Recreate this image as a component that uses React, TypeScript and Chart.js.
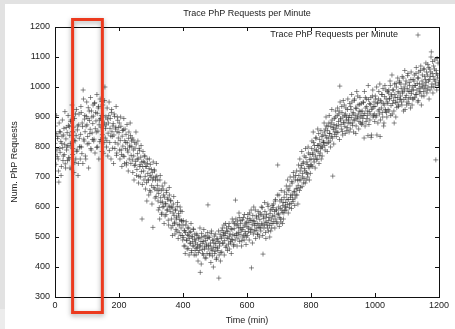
import React, { useEffect, useRef } from "react";
import { Chart, registerables } from "chart.js";

Chart.register(...registerables);

const W = 455;
const H = 329;

const TITLE = "Trace PhP Requests per Minute";
const SERIES_LABEL = "Trace PhP Requests per Minute";
const X_TITLE = "Time (min)";
const Y_TITLE = "Num. PhP Requests";
const X_TICKS = [0, 200, 400, 600, 800, 1000, 1200];
const Y_TICKS = [300, 400, 500, 600, 700, 800, 900, 1000, 1100, 1200];
const HIGHLIGHT_START = 55;
const HIGHLIGHT_END = 148;

// requests per minute at even minutes (0, 2, 4, ...)
const evenEarlyPlateau = [
  812, 776, 845, 790, 828, 760, 683, 851, 782, 818, 735, 836, 798, 770, 862, 809, 744, 827, 790, 848,
  805, 872, 760, 839, 812, 890, 726, 851, 795, 866, 822, 748, 910, 838, 785, 857, 705, 874, 829, 801,
  842, 915, 778, 868, 990, 826, 893, 851, 760, 902, 874, 835, 931, 812, 888, 859, 795, 920, 847, 878,
  903, 826, 948, 861, 887, 799, 912, 853, 935, 874, 818, 895, 866, 952, 841, 905, 779, 880, 1000, 862,
  874, 821, 893, 846, 905, 788, 862, 837, 915, 851, 796, 878, 840, 902, 815, 866, 772, 851, 889, 830,
];
const evenDecline = [
  848, 790, 822, 869, 775, 836, 803, 857, 768, 821, 795, 842, 748, 814, 783, 829, 760, 804, 838, 772,
  801, 757, 824, 770, 738, 796, 752, 810, 725, 778, 760, 702, 789, 741, 766, 718, 560, 735, 752, 690,
  748, 702, 735, 681, 760, 712, 690, 728, 655, 742, 700, 671, 715, 532, 697, 724, 660, 690, 635, 703,
  672, 620, 645, 598, 690, 631, 655, 580, 617, 660, 602, 633, 570, 612, 648, 590, 625, 556, 603, 640,
  585, 622, 560, 597, 538, 610, 572, 549, 590, 525, 566, 602, 541, 578, 515, 558, 587, 530, 552, 505,
];
const evenTrough = [
  540, 498, 522, 470, 515, 551, 488, 507, 462, 530, 495, 478, 518, 448, 502, 485, 527, 470, 493, 455,
  490, 462, 505, 475, 448, 498, 470, 382, 485, 512, 458, 479, 440, 501, 467, 488, 430, 476, 495, 607,
  471, 498, 445, 480, 512, 460, 437, 489, 466, 503, 452, 478, 425, 491, 463, 485, 363, 470, 509, 448,
  495, 522, 478, 506, 540, 488, 512, 465, 530, 497, 519, 476, 545, 503, 485, 528, 492, 560, 508, 470,
  528, 505, 623, 540, 512, 553, 496, 531, 565, 508, 545, 520, 488, 557, 532, 505, 575, 518, 546, 500,
];
const evenRecovery = [
  535, 562, 518, 548, 580, 526, 555, 397, 541, 572, 510, 552, 538, 590, 522, 563, 545, 508, 570, 532,
  558, 530, 575, 545, 598, 443, 562, 540, 585, 515, 566, 548, 530, 602, 555, 538, 578, 520, 560, 592,
  570, 598, 552, 585, 620, 560, 590, 545, 740, 578, 640, 565, 595, 550, 625, 582, 605, 560, 632, 588,
  615, 590, 642, 608, 660, 625, 598, 670, 632, 612, 685, 640, 618, 700, 652, 630, 705, 662, 640, 690,
  672, 705, 655, 720, 690, 738, 668, 712, 750, 695, 728, 680, 765, 715, 742, 700, 780, 730, 758, 712,
];
const evenRise = [
  760, 795, 735, 780, 815, 750, 790, 770, 830, 758, 805, 785, 845, 772, 810, 795, 760, 835, 800, 820,
  815, 850, 790, 838, 870, 812, 855, 830, 880, 845, 820, 868, 835, 890, 703, 858, 875, 842, 900, 862,
  872, 905, 848, 885, 920, 1003, 895, 875, 935, 852, 900, 882, 940, 868, 910, 890, 855, 925, 880, 898,
  905, 880, 935, 898, 950, 872, 915, 890, 960, 905, 845, 928, 895, 970, 910, 885, 942, 900, 918, 875,
  920, 895, 948, 830, 912, 965, 885, 935, 905, 838, 958, 918, 890, 942, 832, 925, 970, 900, 935, 910,
];
const evenHighPlateau = [
  935, 960, 905, 840, 948, 920, 985, 910, 835, 955, 930, 975, 900, 945, 880, 968, 925, 990, 915, 950,
  945, 980, 920, 962, 1005, 938, 970, 910, 990, 955, 880, 975, 948, 1012, 932, 965, 985, 940, 1020, 958,
  970, 995, 940, 980, 1030, 958, 990, 925, 1010, 972, 950, 1038, 985, 945, 1005, 965, 1025, 978, 940, 1000,
  990, 1020, 965, 1005, 1045, 975, 1012, 950, 1030, 995, 980, 1055, 1000, 970, 1040, 1010, 985, 1060, 995, 1025,
  1015, 980, 1040, 1000, 1065, 1025, 990, 1050, 1117, 1010, 1085, 1035, 1000, 1060, 1020, 757, 1045, 1095, 1030, 1005,
];

// requests per minute at odd minutes (1, 3, 5, ...)
const oddEarlyPlateau = [
  870, 742, 905, 768, 835, 720, 880, 795, 850, 705, 812, 890, 755, 840, 775, 918, 730, 865, 800, 755,
  905, 765, 868, 730, 885, 800, 940, 775, 850, 715, 895, 820, 760, 925, 790, 870, 745, 910, 800, 760,
  935, 800, 880, 745, 960, 820, 905, 770, 870, 950, 810, 895, 730, 920, 845, 965, 790, 900, 825, 940,
  820, 945, 780, 915, 850, 975, 800, 930, 760, 890, 960, 825, 905, 785, 940, 870, 815, 955, 830, 900,
  800, 930, 770, 880, 950, 815, 895, 760, 925, 835, 870, 745, 910, 795, 860, 935, 780, 900, 810, 865,
];
const oddDecline = [
  880, 760, 900, 790, 735, 855, 770, 895, 745, 860, 815, 740, 875, 790, 720, 850, 800, 880, 745, 820,
  830, 715, 790, 690, 815, 740, 850, 705, 760, 820, 680, 795, 735, 700, 805, 750, 675, 785, 720, 770,
  770, 660, 735, 620, 745, 690, 640, 760, 705, 650, 725, 610, 690, 750, 665, 720, 630, 700, 745, 655,
  690, 590, 660, 560, 705, 615, 575, 670, 600, 640, 545, 680, 610, 575, 655, 590, 630, 540, 665, 600,
  620, 530, 600, 505, 580, 635, 545, 510, 590, 560, 520, 615, 495, 570, 540, 600, 505, 555, 585, 490,
];
const oddTrough = [
  555, 470, 520, 445, 540, 490, 460, 530, 505, 440, 515, 480, 545, 455, 500, 470, 525, 440, 510, 480,
  440, 510, 465, 420, 495, 455, 530, 470, 410, 500, 445, 485, 525, 460, 430, 505, 470, 445, 515, 460,
  500, 440, 470, 415, 520, 455, 490, 400, 480, 445, 510, 465, 430, 495, 455, 520, 440, 480, 420, 500,
  450, 530, 480, 515, 440, 505, 545, 470, 520, 455, 495, 535, 460, 510, 480, 445, 525, 490, 550, 475,
  545, 490, 560, 505, 470, 540, 515, 580, 485, 530, 555, 470, 525, 500, 565, 490, 540, 510, 475, 550,
];
const oddRecovery = [
  505, 575, 530, 490, 560, 515, 590, 525, 480, 555, 600, 520, 545, 495, 570, 530, 510, 585, 540, 500,
  580, 520, 600, 540, 505, 570, 530, 615, 550, 495, 575, 540, 610, 520, 565, 500, 590, 545, 530, 605,
  545, 610, 570, 530, 625, 590, 550, 640, 575, 600, 535, 620, 560, 655, 590, 545, 615, 580, 650, 600,
  600, 670, 625, 690, 580, 655, 610, 700, 640, 595, 680, 625, 715, 650, 605, 690, 640, 720, 660, 610,
  740, 690, 760, 665, 730, 785, 700, 745, 680, 770, 720, 795, 690, 750, 710, 800, 735, 690, 775, 740,
];
const oddRise = [
  740, 820, 775, 850, 760, 805, 730, 830, 790, 760, 860, 805, 745, 825, 780, 855, 800, 770, 840, 815,
  880, 805, 860, 900, 830, 785, 870, 815, 905, 845, 800, 880, 925, 830, 865, 810, 895, 850, 920, 835,
  850, 930, 870, 910, 825, 950, 890, 860, 915, 840, 955, 880, 905, 845, 930, 900, 865, 960, 890, 850,
  945, 860, 925, 975, 880, 910, 850, 955, 890, 930, 870, 985, 900, 940, 860, 920, 965, 880, 945, 905,
  880, 950, 905, 985, 870, 930, 960, 895, 920, 1005, 875, 945, 910, 965, 840, 930, 990, 905, 950, 885,
];
const oddHighPlateau = [
  970, 900, 1000, 945, 880, 960, 925, 1010, 890, 950, 975, 915, 995, 870, 940, 1005, 920, 960, 900, 985,
  925, 990, 960, 1020, 905, 975, 1040, 945, 990, 920, 1010, 965, 900, 1000, 950, 1030, 935, 980, 1015, 960,
  1010, 950, 1035, 985, 920, 1000, 1055, 965, 1020, 940, 995, 1045, 960, 1015, 985, 930, 1050, 990, 960, 1025,
  960, 1040, 1005, 975, 1065, 990, 1030, 955, 1050, 1010, 985, 1070, 940, 1020, 1000, 1060, 970, 1035, 1005, 1080,
  1050, 990, 1075, 1020, 960, 1060, 1035, 1100, 1000, 1045, 980, 1070, 1025, 1090, 1010, 1055, 990, 1040, 1080, 1015,
];

const evenMinuteRequests = [
  ...evenEarlyPlateau, ...evenDecline, ...evenTrough, ...evenRecovery, ...evenRise, ...evenHighPlateau,
];
const oddMinuteRequests = [
  ...oddEarlyPlateau, ...oddDecline, ...oddTrough, ...oddRecovery, ...oddRise, ...oddHighPlateau,
];

const FONT = "'Liberation Sans', Arial, Helvetica, sans-serif";
const TEXT = "#222";
const MARK = "rgba(50,50,50,0.55)";

function drawCross(ctx: CanvasRenderingContext2D, x: number, y: number, r: number) {
  ctx.beginPath();
  ctx.moveTo(x - r, y);
  ctx.lineTo(x + r, y);
  ctx.moveTo(x, y - r);
  ctx.lineTo(x, y + r);
  ctx.stroke();
}

const framePlugin = {
  id: "gnuplotFrame",
  beforeDraw(chart: any) {
    const ctx = chart.ctx as CanvasRenderingContext2D;
    ctx.save();
    ctx.fillStyle = "#e2e2e2";
    ctx.fillRect(0, 0, W, H);
    ctx.fillStyle = "#ffffff";
    ctx.fillRect(5, 4, W - 5, H - 4);
    ctx.fillStyle = "#ececec";
    ctx.fillRect(0, 309, 5, H - 309);
    ctx.restore();
  },
  afterDatasetsDraw(chart: any) {
    const ctx = chart.ctx as CanvasRenderingContext2D;
    const a = chart.chartArea;
    const xs = chart.scales.x;
    const ys = chart.scales.y;
    ctx.save();
    ctx.strokeStyle = "#111";
    ctx.lineWidth = 1;
    ctx.strokeRect(Math.round(a.left) + 0.5, Math.round(a.top) + 0.5, Math.round(a.right - a.left), Math.round(a.bottom - a.top));
    const t = 4;
    ctx.beginPath();
    X_TICKS.forEach((v) => {
      const px = Math.round(xs.getPixelForValue(v)) + 0.5;
      ctx.moveTo(px, a.bottom);
      ctx.lineTo(px, a.bottom - t);
      ctx.moveTo(px, a.top);
      ctx.lineTo(px, a.top + t);
    });
    Y_TICKS.forEach((v) => {
      const py = Math.round(ys.getPixelForValue(v)) + 0.5;
      ctx.moveTo(a.left, py);
      ctx.lineTo(a.left + t, py);
      ctx.moveTo(a.right, py);
      ctx.lineTo(a.right - t, py);
    });
    ctx.stroke();

    // title
    ctx.fillStyle = TEXT;
    ctx.font = `9px ${FONT}`;
    ctx.textAlign = "center";
    ctx.textBaseline = "middle";
    ctx.fillText(TITLE, (a.left + a.right) / 2, 14);

    // key
    ctx.textAlign = "right";
    ctx.fillText(chart.data.datasets[0].label, 398, 35);
    ctx.strokeStyle = MARK;
    drawCross(ctx, 418, 35, 2.5);

    // highlight box
    const x0 = xs.getPixelForValue(HIGHLIGHT_START);
    const x1 = xs.getPixelForValue(HIGHLIGHT_END);
    ctx.shadowColor = "rgba(0,0,0,0.35)";
    ctx.shadowBlur = 5;
    ctx.shadowOffsetY = 2;
    ctx.strokeStyle = "#ec3a1e";
    ctx.lineWidth = 3;
    ctx.strokeRect(x0, a.top - 7.5, x1 - x0, a.bottom - a.top + 23);
    ctx.restore();
  },
};

export default function App() {
  const ref = useRef<HTMLCanvasElement | null>(null);

  useEffect(() => {
    if (!ref.current) return;
    const points: { x: number; y: number }[] = [];
    evenMinuteRequests.forEach((v, i) => {
      points.push({ x: 2 * i, y: v });
      if (i < oddMinuteRequests.length) points.push({ x: 2 * i + 1, y: oddMinuteRequests[i] });
    });
    const chart = new Chart(ref.current, {
      type: "scatter",
      data: {
        datasets: [
          {
            label: SERIES_LABEL,
            data: points,
            pointStyle: "cross",
            pointRadius: 2.5,
            pointBorderWidth: 1,
            borderColor: MARK,
            backgroundColor: MARK,
            pointHoverRadius: 0,
          },
        ],
      },
      options: {
        animation: false,
        responsive: false,
        devicePixelRatio: 1,
        events: [],
        layout: { padding: { top: 27, right: 16, left: 0, bottom: 0 } },
        plugins: {
          legend: { display: false },
          title: { display: false },
          tooltip: { enabled: false },
        },
        scales: {
          x: {
            type: "linear",
            min: 0,
            max: 1200,
            afterBuildTicks: (s: any) => {
              s.ticks = X_TICKS.map((v) => ({ value: v }));
            },
            afterFit: (s: any) => {
              s.height = 32;
            },
            grid: { display: false, drawTicks: false },
            border: { display: false },
            ticks: {
              padding: 3,
              color: TEXT,
              font: { size: 9, family: FONT },
              maxRotation: 0,
              callback: (v: any) => String(v),
            },
            title: { display: true, text: X_TITLE, color: TEXT, font: { size: 9, family: FONT }, padding: { top: 0, bottom: 3 } },
          },
          y: {
            type: "linear",
            min: 300,
            max: 1200,
            afterBuildTicks: (s: any) => {
              s.ticks = Y_TICKS.map((v) => ({ value: v }));
            },
            afterFit: (s: any) => {
              s.width = 55;
            },
            grid: { display: false, drawTicks: false },
            border: { display: false },
            ticks: { padding: 5, color: TEXT, font: { size: 9, family: FONT }, callback: (v: any) => String(v) },
            title: { display: true, text: Y_TITLE, color: TEXT, font: { size: 9, family: FONT }, padding: { top: 9, bottom: 0 } },
          },
        },
      },
      plugins: [framePlugin],
    });
    return () => chart.destroy();
  }, []);

  return (
    <canvas
      ref={ref}
      width={W}
      height={H}
      style={{ position: "fixed", left: 0, top: 0, width: W, height: H, display: "block" }}
    />
  );
}
